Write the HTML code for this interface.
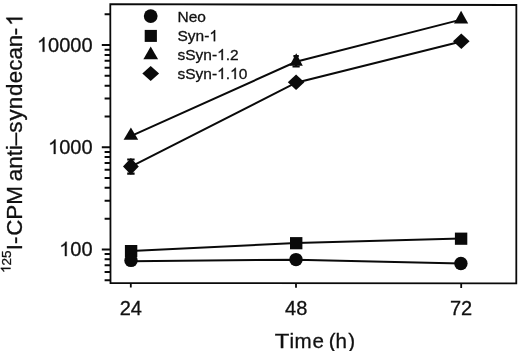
<!DOCTYPE html>
<html><head><meta charset="utf-8"><title>chart</title>
<style>
html,body{margin:0;padding:0;background:#fff;}
body{width:520px;height:351px;overflow:hidden;position:relative;}
svg{will-change:transform;position:absolute;left:0;top:0;display:block;}
text{font-family:"Liberation Sans",sans-serif;fill:#111;stroke:#111;stroke-width:0.3px;}
</style></head><body>
<svg width="520" height="351" viewBox="0 0 520 351">
<rect width="520" height="351" fill="#fff"/>

<path d="M110.3 4.2 L516.35 5.0 L516.3 283.4 L110.5 283.0 Z" fill="none" stroke="#0a0a0a" stroke-width="1.8" stroke-linejoin="miter"/>
<path d="M104.6 14.23 H110.3 M101.8 45.00 H110.3 M101.8 147.20 H110.3 M101.8 249.40 H110.3 M104.6 116.43 H110.3 M104.6 98.44 H110.3 M104.6 85.67 H110.3 M104.6 75.77 H110.3 M104.6 67.67 H110.3 M104.6 60.83 H110.3 M104.6 54.90 H110.3 M104.6 49.68 H110.3 M104.6 218.63 H110.3 M104.6 200.64 H110.3 M104.6 187.87 H110.3 M104.6 177.97 H110.3 M104.6 169.87 H110.3 M104.6 163.03 H110.3 M104.6 157.10 H110.3 M104.6 151.88 H110.3 M104.6 280.17 H110.3 M104.6 272.07 H110.3 M104.6 265.23 H110.3 M104.6 259.30 H110.3 M104.6 254.08 H110.3 " stroke="#0a0a0a" stroke-width="2.0" fill="none"/>
<path d="M130.8 283.0 V287.6 M296.0 283.2 V287.8 M461.2 283.4 V288.0 " stroke="#0a0a0a" stroke-width="1.8" fill="none"/>
<polyline points="130.8,136.1 296.0,61.8 461.1,19.6" fill="none" stroke="#0a0a0a" stroke-width="2.0"/>
<polyline points="130.9,166.7 296.1,82.7 461.3,41.5" fill="none" stroke="#0a0a0a" stroke-width="2.0"/>
<polyline points="131.1,250.9 296.2,243.0 461.1,238.5" fill="none" stroke="#0a0a0a" stroke-width="2.0"/>
<polyline points="131.0,261.2 296.0,259.7 460.9,263.6" fill="none" stroke="#0a0a0a" stroke-width="2.0"/>
<path d="M127.2 159.5 H134.6 M127.2 173.7 H134.6 M130.9 159.5 V173.7" stroke="#0a0a0a" stroke-width="2.2" fill="none"/>
<path d="M293.4 56.2 H298.8 M292.5 66.5 H299.7 M296.1 56.2 V66.5" stroke="#0a0a0a" stroke-width="2.2" fill="none"/>
<polygon points="130.9,127.6 138.2,139.8 123.6,139.8" fill="#0a0a0a"/>
<polygon points="296.2,53.2 302.8,65.7 289.6,65.7" fill="#0a0a0a"/>
<polygon points="461.1,10.7 468.2,23.5 454.0,23.5" fill="#0a0a0a"/>
<polygon points="130.9,158.1 138.8,166.4 130.9,174.7 123.0,166.4" fill="#0a0a0a"/>
<polygon points="296.1,74.4 304.4,82.2 296.1,90.0 287.8,82.2" fill="#0a0a0a"/>
<polygon points="461.3,33.4 469.6,41.2 461.3,49.0 453.0,41.2" fill="#0a0a0a"/>
<rect x="124.9" y="245.0" width="12.4" height="12.2" fill="#0a0a0a"/>
<rect x="290.0" y="237.1" width="12.4" height="12.2" fill="#0a0a0a"/>
<rect x="454.9" y="232.6" width="12.4" height="12.2" fill="#0a0a0a"/>
<circle cx="131.0" cy="260.4" r="6.7" fill="#0a0a0a"/>
<circle cx="296.0" cy="259.6" r="6.7" fill="#0a0a0a"/>
<circle cx="460.9" cy="263.5" r="6.7" fill="#0a0a0a"/>
<circle cx="150.7" cy="16.1" r="6.9" fill="#0a0a0a"/>
<rect x="144.7" y="29.9" width="12.2" height="12.0" fill="#0a0a0a"/>
<polygon points="150.7,46.5 158.1,59.2 143.4,59.2" fill="#0a0a0a"/>
<polygon points="150.7,66.1 159.1,73.6 150.7,81.1 142.3,73.6" fill="#0a0a0a"/>
<text x="177.5" y="22.0" font-size="15.5">Neo</text>
<text x="177.5" y="41.2" font-size="15.5">Syn-<tspan visibility="hidden">1</tspan></text>
<text x="177.5" y="60.1" font-size="15.5">sSyn-<tspan visibility="hidden">1</tspan>.2</text>
<text x="177.5" y="79.0" font-size="15.5">sSyn-<tspan visibility="hidden">1</tspan>.<tspan visibility="hidden">1</tspan>0</text>
<text x="92.6" y="51.7" font-size="20" text-anchor="end"><tspan visibility="hidden">1</tspan>0000</text>
<text x="92.6" y="153.9" font-size="20" text-anchor="end"><tspan visibility="hidden">1</tspan>000</text>
<text x="92.6" y="256.1" font-size="20" text-anchor="end"><tspan visibility="hidden">1</tspan>00</text>
<text x="130.8" y="315" font-size="20" text-anchor="middle">24</text>
<text x="296.2" y="315" font-size="20" text-anchor="middle">48</text>
<text x="461.1" y="315" font-size="20" text-anchor="middle">72</text>
<text y="348.1" font-size="20.6" x="289.5 294.4 312.4 323.9 328.8 335.6 348.2">ime (h)</text>
<text transform="translate(274.7,348.1) scale(1.16,1)" font-size="20.6">T</text>
<text transform="translate(22.4,272.9) rotate(-90)" font-size="22.4"><tspan font-size="13.5" dy="-11.9"><tspan visibility="hidden">1</tspan>25</tspan><tspan dy="11.9" dx="0 0 0.8 0 0 0 -1.4 0 0 0 0 0 1.0 0 0.8 0.3 0 0 0 -0.5 1.7">I-CPM anti–syndecan-<tspan visibility="hidden">1</tspan></tspan></text>
<path d="M763 0H583V1147Q518 1085 412.5 1023T223 930V1104Q374 1175 487 1276T647 1472H763Z" fill="#111" stroke="#111" stroke-width="39.6" transform="translate(209.38,41.20) scale(0.00757,-0.00757)"/>
<path d="M763 0H583V1147Q518 1085 412.5 1023T223 930V1104Q374 1175 487 1276T647 1472H763Z" fill="#111" stroke="#111" stroke-width="39.6" transform="translate(217.12,60.10) scale(0.00757,-0.00757)"/>
<path d="M763 0H583V1147Q518 1085 412.5 1023T223 930V1104Q374 1175 487 1276T647 1472H763Z" fill="#111" stroke="#111" stroke-width="39.6" transform="translate(217.12,79.00) scale(0.00757,-0.00757)"/>
<path d="M763 0H583V1147Q518 1085 412.5 1023T223 930V1104Q374 1175 487 1276T647 1472H763Z" fill="#111" stroke="#111" stroke-width="39.6" transform="translate(230.06,79.00) scale(0.00757,-0.00757)"/>
<path d="M763 0H583V1147Q518 1085 412.5 1023T223 930V1104Q374 1175 487 1276T647 1472H763Z" fill="#111" stroke="#111" stroke-width="30.7" transform="translate(36.97,51.70) scale(0.00977,-0.00977)"/>
<path d="M763 0H583V1147Q518 1085 412.5 1023T223 930V1104Q374 1175 487 1276T647 1472H763Z" fill="#111" stroke="#111" stroke-width="30.7" transform="translate(48.10,153.90) scale(0.00977,-0.00977)"/>
<path d="M763 0H583V1147Q518 1085 412.5 1023T223 930V1104Q374 1175 487 1276T647 1472H763Z" fill="#111" stroke="#111" stroke-width="30.7" transform="translate(59.22,256.10) scale(0.00977,-0.00977)"/>
<path d="M763 0H583V1147Q518 1085 412.5 1023T223 930V1104Q374 1175 487 1276T647 1472H763Z" fill="#111" stroke="#111" stroke-width="45.5" transform="translate(22.4,272.9) rotate(-90) translate(0.00,-11.90) scale(0.00659,-0.00659)"/>
<path d="M763 0H583V1147Q518 1085 412.5 1023T223 930V1104Q374 1175 487 1276T647 1472H763Z" fill="#111" stroke="#111" stroke-width="27.4" transform="translate(22.4,272.9) rotate(-90) translate(246.87,0.00) scale(0.01094,-0.01094)"/>
</svg></body></html>
